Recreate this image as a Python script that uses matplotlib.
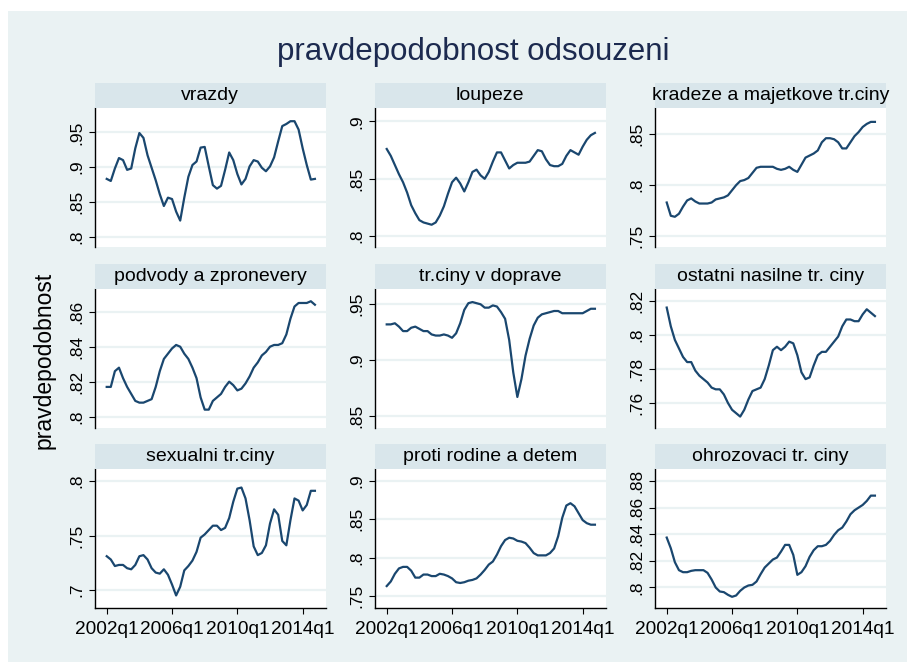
#import modules
import matplotlib
matplotlib.use("Agg")
import matplotlib.pyplot as plt
import numpy as np
from matplotlib.patches import Rectangle
from matplotlib.ticker import FuncFormatter

plt.rcParams['font.family'] = ['Liberation Sans', 'DejaVu Sans']

#data: quarterly 2002q1 .. 2014q4
quarters = np.arange(52)
xtick_pos = [0, 16, 32, 48]
xtick_labels = ["2002q1", "2006q1", "2010q1", "2014q1"]

titles = ["vrazdy", "loupeze", "kradeze a majetkove tr.ciny",
          "podvody a zpronevery", "tr.ciny v doprave", "ostatni nasilne tr. ciny",
          "sexualni tr.ciny", "proti rodine a detem", "ohrozovaci tr. ciny"]

vrazdy = [.883, .880, .898, .913, .910, .896, .898, .927, .949, .942, .917, .899, .881,
          .861, .844, .856, .854, .836, .823, .856, .886, .903, .908, .928, .929, .901,
          .874, .869, .873, .896, .921, .910, .890, .875, .883, .901, .910, .908, .899,
          .894, .901, .914, .937, .959, .962, .966, .966, .954, .927, .903, .882, .883]
loupeze = [.876, .870, .862, .854, .847, .838, .827, .820, .814, .812, .811, .810, .812,
           .818, .826, .837, .847, .851, .846, .839, .847, .856, .858, .853, .850, .856,
           .865, .873, .873, .866, .859, .862, .864, .864, .864, .865, .870, .875, .874,
           .867, .862, .861, .861, .863, .870, .875, .873, .871, .878, .884, .888, .890]
kradeze = [.783, .770, .769, .772, .779, .785, .787, .784, .782, .782, .782, .783, .786,
           .787, .788, .790, .795, .800, .804, .805, .807, .812, .817, .818, .818, .818,
           .818, .816, .815, .816, .818, .815, .813, .820, .827, .829, .831, .834, .842,
           .846, .846, .845, .842, .836, .836, .842, .848, .852, .857, .860, .862, .862]
podvody = [.817, .817, .826, .828, .822, .817, .813, .809, .808, .808, .809, .810, .817,
           .826, .833, .836, .839, .841, .840, .836, .833, .828, .822, .811, .804, .804,
           .809, .811, .813, .817, .820, .818, .815, .816, .819, .823, .828, .831, .835,
           .837, .840, .841, .841, .842, .847, .856, .863, .865, .865, .865, .866, .864]
doprava = [.932, .932, .933, .930, .926, .926, .929, .930, .928, .926, .926, .923, .922,
           .922, .923, .922, .920, .924, .933, .945, .951, .952, .951, .950, .947, .947,
           .949, .948, .943, .937, .918, .889, .867, .883, .904, .919, .931, .938, .941,
           .942, .943, .944, .944, .942, .942, .942, .942, .942, .942, .944, .946, .946]
nasilne = [.816, .805, .797, .792, .787, .784, .784, .779, .776, .774, .772, .769, .768,
           .768, .765, .760, .756, .754, .752, .756, .762, .767, .768, .769, .774, .782,
           .791, .793, .791, .793, .796, .795, .788, .778, .774, .775, .782, .788, .790,
           .790, .793, .796, .799, .805, .809, .809, .808, .808, .812, .815, .813, .811]
sexualni = [.731, .728, .722, .723, .723, .720, .719, .723, .731, .732, .728, .720, .716,
            .715, .719, .714, .705, .695, .703, .718, .722, .727, .735, .748, .751, .755,
            .759, .759, .755, .757, .766, .781, .793, .794, .784, .764, .740, .732, .734,
            .741, .761, .774, .769, .745, .741, .764, .784, .782, .773, .778, .791, .791]
rodina = [.763, .769, .779, .786, .788, .788, .783, .774, .774, .778, .778, .776, .776,
          .779, .778, .776, .773, .768, .767, .768, .770, .771, .773, .778, .784, .791,
          .795, .804, .815, .823, .826, .825, .822, .821, .819, .813, .806, .803, .803,
          .803, .806, .812, .828, .852, .868, .871, .867, .858, .849, .845, .843, .843]
ohrozovaci = [.8375, .8295, .819, .813, .8115, .8115, .8125, .813, .813, .813, .811, .806,
              .800, .797, .7965, .7945, .793, .794, .7975, .800, .8015, .802, .8045, .810,
              .815, .818, .821, .8225, .827, .832, .832, .8245, .8095, .8115, .816, .823,
              .828, .831, .831, .832, .835, .8395, .843, .845, .8495, .855, .858, .860,
              .862, .865, .869, .869]

series = [vrazdy, loupeze, kradeze, podvody, doprava, nasilne, sexualni, rodina, ohrozovaci]

yticks = [[.8, .85, .9, .95], [.8, .85, .9], [.75, .8, .85],
          [.8, .82, .84, .86], [.85, .9, .95], [.76, .78, .8, .82],
          [.7, .75, .8], [.75, .8, .85, .9], [.8, .82, .84, .86, .88]]
ylims = [(.785, .985), (.7906, .9117), (.7394, .8756),
         (.7935, .873), (.8392, .9637), (.7453, .8269),
         (.6835, .811), (.7344, .9156), (.7846, .889)]

#colours (Stata s2color)
bg = "#EAF2F3"
strip = "#D9E6EB"
navy = "#1A476F"

W, H = 907, 662
fig = plt.figure(figsize=(W / 100, H / 100), dpi=100, facecolor="white")
fig.patches.append(Rectangle((8 / W, 0), 1 - 8 / W, 1 - 11 / H,
                             transform=fig.transFigure, facecolor=bg,
                             edgecolor="none", zorder=-10))


def px_rect(x, y, w, h):
    return [x / W, 1 - (y + h) / H, w / W, h / H]


col_x = [95, 375, 655]
row_y = [108, 289, 469]
aw, ah = 230.7, 139
hh = 25.5

fmt = FuncFormatter(lambda v, p: f"{v:g}".lstrip("0"))

for k in range(9):
    r, c = divmod(k, 3)
    ax = fig.add_axes(px_rect(col_x[c], row_y[r], aw, ah))
    ax.set_facecolor("white")
    ax.plot(quarters, series[k], color=navy, linewidth=1.6)
    ax.set_xlim(-2.87, 53.64)
    ax.set_ylim(*ylims[k])
    ax.set_yticks(yticks[k])
    ax.yaxis.set_major_formatter(fmt)
    ax.grid(axis="y", color=bg, linewidth=1.6)
    ax.set_axisbelow(True)
    for s in ["top", "right"]:
        ax.spines[s].set_visible(False)
    ax.spines["left"].set_linewidth(1.0)
    ax.tick_params(axis="y", length=4.5, width=0.8, pad=3.5, labelsize=12.5)
    plt.setp(ax.get_yticklabels(), rotation=90, va="center")
    if r == 2:
        ax.set_xticks(xtick_pos)
        ax.set_xticklabels(xtick_labels)
        ax.tick_params(axis="x", length=4.5, width=0.8, pad=5, labelsize=13.7)
        ax.spines["bottom"].set_linewidth(1.0)
    else:
        ax.set_xticks([])
        ax.spines["bottom"].set_visible(False)

    #strip header
    hax = fig.add_axes(px_rect(col_x[c], row_y[r] - hh, aw, hh))
    hax.set_facecolor(strip)
    hax.set_xticks([])
    hax.set_yticks([])
    for s in hax.spines.values():
        s.set_visible(False)
    hax.text(0.5, 0.48, titles[k], ha="center", va="center", fontsize=14,
             color="black", transform=hax.transAxes, clip_on=False)

fig.text(473 / W, 1 - 52 / H, "pravdepodobnost odsouzeni", ha="center", va="center",
         fontsize=22.5, color="#1C2A4F")
fig.text(44 / W, 1 - 360 / H, "pravdepodobnost", rotation=90, ha="center", va="center",
         fontsize=16.5, color="black")

fig.savefig("out.png", dpi=100, facecolor="white")
